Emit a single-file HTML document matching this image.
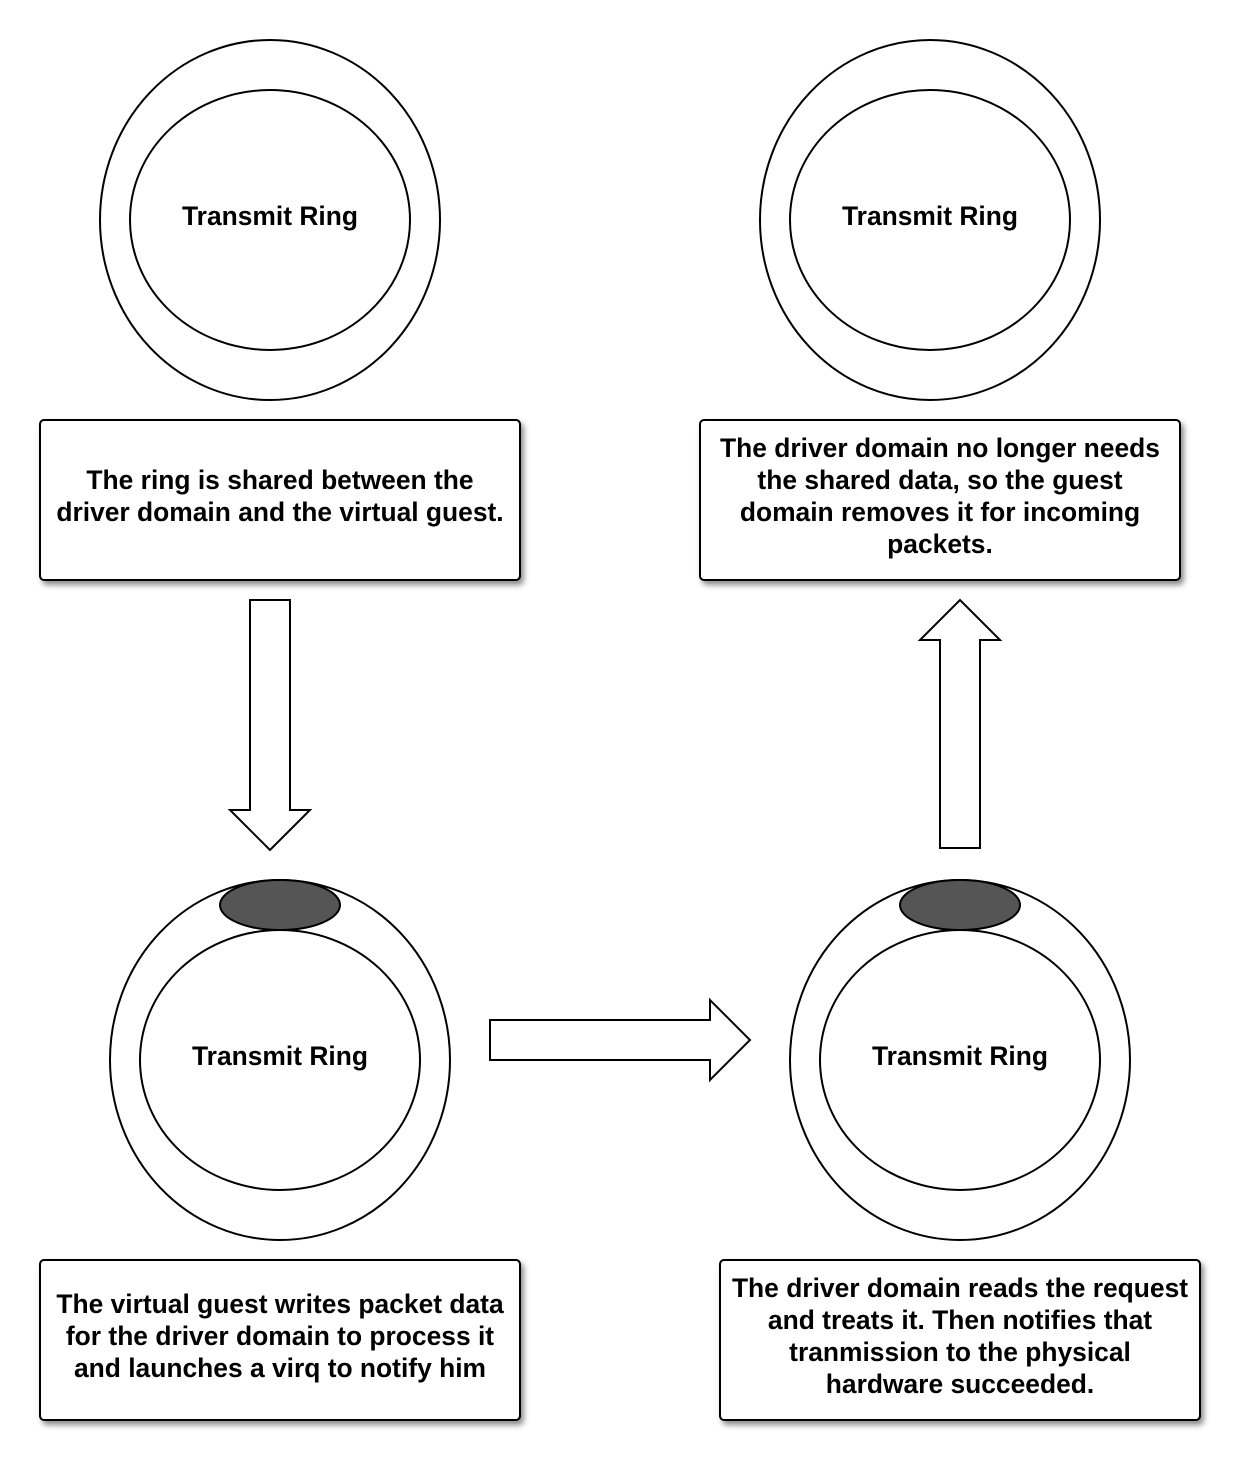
<!DOCTYPE html>
<html><head><meta charset="utf-8"><style>
body{margin:0;background:#fff;}
svg text{font-family:"Liberation Sans",sans-serif;font-weight:bold;font-size:26.4px;fill:#000;}
</style></head><body>
<svg width="1240" height="1460" xmlns="http://www.w3.org/2000/svg">
<defs><filter id="sh" x="-10%" y="-10%" width="130%" height="130%"><feDropShadow dx="3" dy="4" stdDeviation="3" flood-color="#000" flood-opacity="0.45"/></filter></defs>
<g fill="#fff" stroke="#000" stroke-width="2">
<ellipse cx="270" cy="220" rx="170" ry="180"/><ellipse cx="270" cy="220" rx="140" ry="130"/>
<ellipse cx="930" cy="220" rx="170" ry="180"/><ellipse cx="930" cy="220" rx="140" ry="130"/>
<ellipse cx="280" cy="1060" rx="170" ry="180"/><ellipse cx="280" cy="1060" rx="140" ry="130"/>
<ellipse cx="960" cy="1060" rx="170" ry="180"/><ellipse cx="960" cy="1060" rx="140" ry="130"/>
<ellipse cx="280" cy="905" rx="60" ry="25" fill="#555"/>
<ellipse cx="960" cy="905" rx="60" ry="25" fill="#555"/>
<rect x="40" y="420" width="480" height="160" rx="4" filter="url(#sh)"/>
<rect x="700" y="420" width="480" height="160" rx="4" filter="url(#sh)"/>
<rect x="40" y="1260" width="480" height="160" rx="4" filter="url(#sh)"/>
<rect x="720" y="1260" width="480" height="160" rx="4" filter="url(#sh)"/>
<polygon points="250,600 290,600 290,810 310,810 270,850 230,810 250,810"/>
<polygon points="940,848 980,848 980,640 1000,640 960,600 920,640 940,640"/>
<polygon points="490,1020 710,1020 710,1000 750,1040 710,1080 710,1060 490,1060"/>
</g>
<g text-anchor="middle">
<text x="270" y="225">Transmit Ring</text>
<text x="930" y="225">Transmit Ring</text>
<text x="280" y="1065">Transmit Ring</text>
<text x="960" y="1065">Transmit Ring</text>
<text x="280" y="489">The ring is shared between the</text>
<text x="280" y="521">driver domain and the virtual guest.</text>
<text x="940" y="457">The driver domain no longer needs</text>
<text x="940" y="489">the shared data, so the guest</text>
<text x="940" y="521">domain removes it for incoming</text>
<text x="940" y="553">packets.</text>
<text x="280" y="1313">The virtual guest writes packet data</text>
<text x="280" y="1345">for the driver domain to process it</text>
<text x="280" y="1377">and launches a virq to notify him</text>
<text x="960" y="1297">The driver domain reads the request</text>
<text x="960" y="1329">and treats it. Then notifies that</text>
<text x="960" y="1361">tranmission to the physical</text>
<text x="960" y="1393">hardware succeeded.</text>
</g>
</svg>
</body></html>
